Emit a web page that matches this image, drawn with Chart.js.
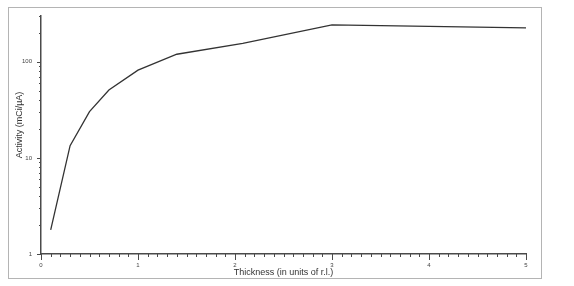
<!DOCTYPE html>
<html>
<head>
<meta charset="utf-8">
<script src="https://cdn.jsdelivr.net/npm/chart.js@4/dist/chart.umd.min.js"></script>
<style>
  html, body { margin: 0; padding: 0; background: #fff; }
  #wrap { position: relative; width: 574px; height: 286px; }
</style>
</head>
<body>
<div id="wrap"><canvas id="c"></canvas></div>
<script>
// thickness (r.l.) vs activity (mCi/uA)
const thickness = [0.1, 0.3, 0.5, 0.7, 1.0, 1.4, 2.08, 3.0, 4.0, 5.0];
const activity  = [1.78, 13.4, 30.3, 50.9, 82, 120, 156, 242, 234, 226];

const xLabels = [0, 1, 2, 3, 4, 5];
const yTickValues = [1, 2, 3, 4, 5, 6, 7, 8, 9, 10, 20, 30, 40, 50, 60, 70, 80, 90, 100, 200, 300];
const yLabels = [1, 10, 100];

const xTitle = 'Thickness (in units of r.l.)';
const yTitle = 'Activity (mCi/\u00b5A)';

const FONT = "'Liberation Sans', Arial, Helvetica, sans-serif";
const AXIS = '#4a4a4a';

const isInt = v => Math.abs(v - Math.round(v)) < 1e-6;

const frame = {
  id: 'frame',
  beforeDraw(chart) {
    const {ctx} = chart;
    ctx.save();
    ctx.strokeStyle = '#b4b4b4';
    ctx.lineWidth = 1;
    ctx.strokeRect(8.5, 7.5, 533, 271);
    ctx.restore();
  }
};

// outward tick marks, long at labelled values, short elsewhere
const tickMarks = {
  id: 'tickMarks',
  afterDraw(chart) {
    const {ctx, scales} = chart;
    const x = scales.x, y = scales.y;
    ctx.save();
    ctx.strokeStyle = AXIS;
    ctx.lineWidth = 1;
    x.ticks.forEach(t => {
      const px = Math.round(x.getPixelForValue(t.value)) + 0.5;
      const len = isInt(t.value) ? 6 : 3;
      ctx.beginPath();
      ctx.moveTo(px, x.top);
      ctx.lineTo(px, x.top + len);
      ctx.stroke();
    });
    y.ticks.forEach(t => {
      const py = Math.round(y.getPixelForValue(t.value)) + 0.5;
      const len = yLabels.includes(t.value) ? 4 : 2;
      ctx.beginPath();
      ctx.moveTo(y.right - len, py);
      ctx.lineTo(y.right, py);
      ctx.stroke();
    });

    // y axis title, drawn a little above centre as in the original
    ctx.translate(19.5, 125);
    ctx.rotate(-Math.PI / 2);
    ctx.font = `9px ${FONT}`;
    ctx.fillStyle = '#333';
    ctx.textAlign = 'center';
    ctx.textBaseline = 'middle';
    ctx.fillText(yTitle, 0, 0);
    ctx.restore();
  }
};

new Chart(document.getElementById('c'), {
  type: 'line',
  data: {
    datasets: [{
      data: thickness.map((t, i) => ({x: t, y: activity[i]})),
      borderColor: '#333',
      borderWidth: 1.3,
      pointRadius: 0,
      tension: 0,
      fill: false
    }]
  },
  plugins: [frame, tickMarks],
  options: {
    responsive: true,
    maintainAspectRatio: false,
    animation: false,
    layout: {padding: {top: 16, right: 48, bottom: 0, left: 0}},
    plugins: {legend: {display: false}, tooltip: {enabled: false}},
    scales: {
      x: {
        type: 'linear',
        min: 0,
        max: 5,
        afterFit: s => { s.height = 32; },
        grid: {display: false, drawTicks: false},
        border: {display: true, color: AXIS, width: 1.5},
        ticks: {
          stepSize: 0.1,
          autoSkip: false,
          maxRotation: 0,
          padding: 8,
          color: '#444',
          font: {family: FONT, size: 6},
          callback: v => (xLabels.some(l => Math.abs(l - v) < 1e-6) ? String(Math.round(v)) : '')
        },
        title: {
          display: true,
          text: xTitle,
          color: '#333',
          font: {family: FONT, size: 9},
          padding: {top: 0, bottom: 8}
        }
      },
      y: {
        type: 'logarithmic',
        min: 1,
        max: 300,
        afterFit: s => { s.width = 41; },
        afterBuildTicks: s => { s.ticks = yTickValues.map(v => ({value: v})); },
        grid: {display: false, drawTicks: false},
        border: {display: true, color: AXIS, width: 1.5},
        ticks: {
          autoSkip: false,
          padding: 9,
          color: '#444',
          font: {family: FONT, size: 6},
          callback: v => (yLabels.includes(v) ? String(v) : '')
        }
      }
    }
  }
});
</script>
</body>
</html>
